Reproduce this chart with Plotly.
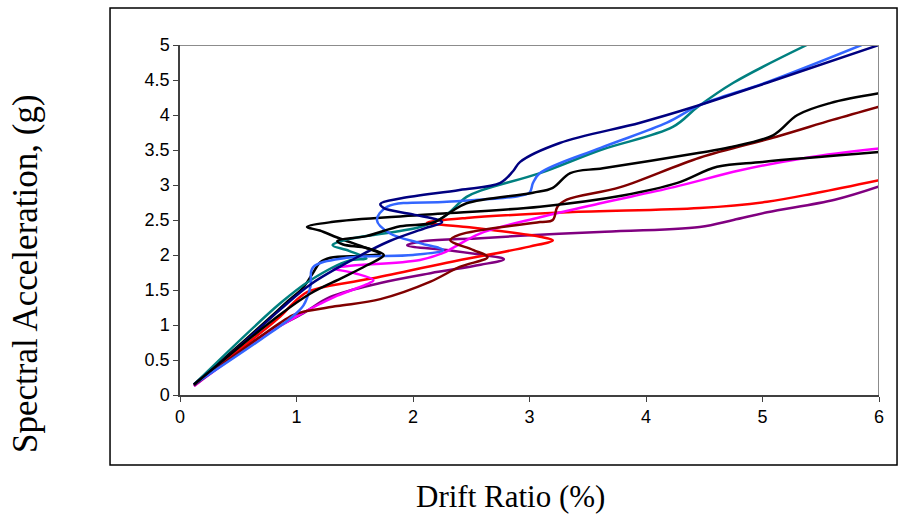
import plotly.graph_objects as go

# Incremental dynamic analysis curves: drift ratio (%) vs spectral acceleration (g)
navy_x = [0.12, 0.5, 0.86, 1.12, 1.5, 1.8, 2.1, 2.25, 2.0, 1.75, 1.72, 1.9, 2.4, 2.75, 2.86, 2.92, 3.26, 3.95, 4.4, 5.04, 6.0]
navy_y = [0.15, 0.68, 1.22, 1.58, 1.95, 2.2, 2.38, 2.47, 2.58, 2.67, 2.73, 2.81, 2.93, 3.03, 3.2, 3.33, 3.6, 3.89, 4.11, 4.46, 5.0]

blue_x = [0.12, 0.7, 0.95, 1.06, 1.12, 1.14, 1.43, 2.0, 2.26, 2.06, 1.8, 1.69, 1.78, 2.29, 2.86, 3.0, 3.03, 3.09, 3.61, 4.18, 4.46, 5.04, 5.85]
blue_y = [0.15, 0.8, 1.1, 1.28, 1.55, 1.82, 1.96, 2.0, 2.07, 2.17, 2.31, 2.5, 2.69, 2.76, 2.83, 2.89, 3.03, 3.17, 3.53, 3.89, 4.14, 4.47, 5.0]

teal_x = [0.12, 0.86, 1.12, 1.45, 1.6, 1.45, 1.31, 1.43, 2.06, 2.26, 2.46, 2.6, 3.09, 3.61, 4.23, 4.44, 4.75, 5.38]
teal_y = [0.15, 1.31, 1.64, 1.92, 1.95, 2.06, 2.14, 2.22, 2.4, 2.54, 2.83, 2.93, 3.17, 3.5, 3.83, 4.11, 4.46, 5.0]

black1_x = [0.12, 0.86, 1.12, 1.4, 1.6, 1.75, 1.6, 1.4, 1.35, 1.6, 1.89, 2.17, 2.32, 2.46, 3.03, 3.2, 3.35, 3.63, 4.46, 4.72, 5.09, 5.3, 5.58, 6.0]
black1_y = [0.15, 1.15, 1.45, 1.68, 1.85, 2.0, 2.1, 2.15, 2.2, 2.27, 2.41, 2.46, 2.61, 2.74, 2.89, 2.96, 3.17, 3.24, 3.46, 3.54, 3.71, 4.0, 4.17, 4.31]

black2_x = [0.12, 0.5, 0.94, 1.06, 1.14, 1.2, 1.29, 1.57, 1.72, 1.6, 1.35, 1.2, 1.09, 1.3, 2.06, 3.09, 3.8, 4.27, 4.61, 5.0, 6.0]
black2_y = [0.15, 0.7, 1.36, 1.54, 1.74, 1.89, 1.96, 1.99, 2.02, 2.1, 2.25, 2.35, 2.4, 2.47, 2.57, 2.69, 2.85, 3.03, 3.26, 3.33, 3.47]

maroon_x = [0.12, 0.86, 0.97, 1.06, 1.35, 1.72, 2.15, 2.4, 2.64, 2.52, 2.32, 2.4, 3.09, 3.2, 3.24, 3.32, 3.78, 4.46, 5.12, 5.6, 6.0]
maroon_y = [0.14, 1.03, 1.14, 1.19, 1.27, 1.37, 1.62, 1.83, 1.97, 2.07, 2.21, 2.29, 2.47, 2.5, 2.69, 2.79, 2.97, 3.39, 3.69, 3.93, 4.12]

magenta_x = [0.12, 0.7, 1.03, 1.2, 1.35, 1.6, 1.66, 1.5, 1.31, 1.43, 2.06, 2.26, 2.35, 2.58, 3.09, 3.61, 4.24, 4.81, 5.38, 6.0]
magenta_y = [0.13, 0.82, 1.15, 1.3, 1.42, 1.58, 1.64, 1.74, 1.81, 1.84, 1.93, 2.03, 2.11, 2.31, 2.54, 2.74, 2.97, 3.21, 3.39, 3.52]

red_x = [0.12, 0.86, 0.97, 1.03, 1.09, 1.2, 1.63, 2.29, 3.0, 3.2, 3.09, 2.46, 2.12, 2.46, 3.33, 4.46, 5.04, 5.47, 6.0]
red_y = [0.15, 1.12, 1.31, 1.4, 1.47, 1.53, 1.66, 1.89, 2.12, 2.21, 2.26, 2.4, 2.46, 2.53, 2.61, 2.67, 2.76, 2.89, 3.07]

purple_x = [0.12, 0.69, 1.06, 1.29, 1.72, 2.15, 2.58, 2.78, 2.6, 2.29, 1.95, 2.1, 2.58, 3.09, 3.6, 4.46, 4.75, 5.04, 5.62, 6.0]
purple_y = [0.13, 0.83, 1.17, 1.4, 1.6, 1.74, 1.86, 1.94, 2.0, 2.07, 2.14, 2.2, 2.24, 2.29, 2.33, 2.4, 2.5, 2.61, 2.79, 2.98]

x_ticks = [0, 1, 2, 3, 4, 5, 6]
y_ticks = [0, 0.5, 1, 1.5, 2, 2.5, 3, 3.5, 4, 4.5, 5]
y_tick_text = ["0", "0.5", "1", "1.5", "2", "2.5", "3", "3.5", "4", "4.5", "5"]

series = [
    (purple_x, purple_y, "#800080"),
    (red_x, red_y, "#FF0000"),
    (magenta_x, magenta_y, "#FF00FF"),
    (maroon_x, maroon_y, "#800000"),
    (black2_x, black2_y, "#000000"),
    (teal_x, teal_y, "#008080"),
    (blue_x, blue_y, "#3366FF"),
    (navy_x, navy_y, "#000080"),
    (black1_x, black1_y, "#000000"),
]

fig = go.Figure()
for xs, ys, col in series:
    fig.add_trace(go.Scatter(
        x=xs, y=ys, mode="lines",
        line=dict(color=col, width=2.5, shape="spline", smoothing=1.0),
        showlegend=False, hoverinfo="skip", cliponaxis=True,
    ))

fig.update_layout(
    width=899, height=514,
    margin=dict(l=180, r=20, t=45, b=119),
    paper_bgcolor="white", plot_bgcolor="white",
    showlegend=False,
    xaxis=dict(
        range=[0, 6], tickvals=x_ticks, ticks="outside", ticklen=5,
        tickcolor="#404040", showline=True, linecolor="#404040", linewidth=1.5,
        showgrid=False, zeroline=False,
        tickfont=dict(family="Liberation Sans, Arial", size=18, color="black"),
    ),
    yaxis=dict(
        range=[0, 5], tickvals=y_ticks, ticktext=y_tick_text, ticks="outside", ticklen=5,
        tickcolor="#404040", showline=True, linecolor="#404040", linewidth=1.5,
        showgrid=False, zeroline=False,
        tickfont=dict(family="Liberation Sans, Arial", size=18, color="black"),
    ),
    shapes=[
        # grey frame on the top and right of the plot area
        dict(type="line", xref="x", yref="y", x0=0, y0=5, x1=6, y1=5,
             line=dict(color="#8c8c8c", width=2)),
        dict(type="line", xref="x", yref="y", x0=6, y0=0, x1=6, y1=5,
             line=dict(color="#8c8c8c", width=2)),
        # outer chart border
        dict(type="rect", xref="paper", yref="paper",
             x0=-0.1001, y0=-0.2, x1=1.0258, y1=1.1057,
             line=dict(color="black", width=1.5)),
    ],
    annotations=[
        dict(text="Drift Ratio (%)", xref="paper", yref="paper",
             x=(510 - 180) / 699, y=(395 - 496) / 350, showarrow=False,
             xanchor="center", yanchor="middle",
             font=dict(family="Liberation Serif, Times New Roman", size=31, color="black")),
        dict(text="Spectral Acceleration, (g)", xref="paper", yref="paper",
             x=(25 - 180) / 699, y=(395 - 274) / 350, showarrow=False,
             xanchor="center", yanchor="middle", textangle=-90,
             font=dict(family="Liberation Serif, Times New Roman", size=35, color="black")),
    ],
)

fig.write_html("out.html")
